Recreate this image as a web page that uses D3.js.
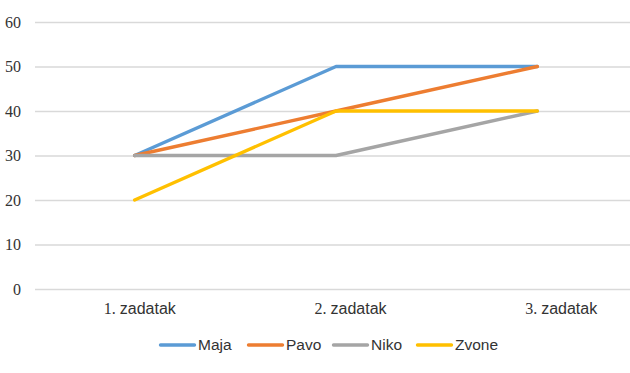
<!DOCTYPE html>
<html>
<head>
<meta charset="utf-8">
<script src="https://cdn.jsdelivr.net/npm/d3@7"></script>
<style>
  body { margin: 0; background: #fff; }
  svg { display: block; }
</style>
</head>
<body>
<div id="chart"></div>
<script>
(function() {
    'use strict';

    var categories = ["1. zadatak", "2. zadatak", "3. zadatak"];
    var seriesNames = ["Maja", "Pavo", "Niko", "Zvone"];
    var maja = [30, 50, 50];
    var pavo = [30, 40, 50];
    var niko = [30, 30, 40];
    var zvone = [20, 40, 40];
    var yTicks = [0, 10, 20, 30, 40, 50, 60];

    var seriesValues = [maja, pavo, niko, zvone];
    var colors = ["#5b9bd5", "#ed7d31", "#a5a5a5", "#ffc000"];

    var W = 630, H = 373;
    var plotLeft = 35, plotRight = 630, plotTop = 22, plotBottom = 289;
    var textColor = "#333";
    var serifStyle = "font-family:'Liberation Serif'";
    var sansStyle = "font-family:'Liberation Sans'";

    var svg = d3.select("#chart").append("svg")
        .attr("width", W)
        .attr("height", H);

    var x = d3.scalePoint()
        .domain(categories)
        .range([34, 638])
        .padding(0.5);

    // labels sit slightly right of the points in the reference
    var xLabel = d3.scalePoint()
        .domain(categories)
        .range([34, 666])
        .padding(0.5);

    var y = d3.scaleLinear()
        .domain([0, 60])
        .range([plotBottom, plotTop]);

    // grid
    svg.append("g")
        .attr("class", "grid")
        .attr("transform", "translate(" + plotLeft + ",0)")
        .call(d3.axisLeft(y).tickValues(yTicks).tickSize(-(plotRight - plotLeft)).tickFormat(""))
        .call(g => g.select(".domain").remove())
        .selectAll("line")
        .style("stroke", "#d9d9d9")
        .style("stroke-width", 1.3);

    // y labels
    svg.append("g")
        .attr("class", "y-axis")
        .attr("transform", "translate(21,0)")
        .call(d3.axisLeft(y).tickValues(yTicks).tickSize(0).tickPadding(0))
        .attr("font-family", null)
        .attr("font-size", null)
        .call(g => g.select(".domain").remove())
        .selectAll("text")
        .attr("style", serifStyle)
        .attr("font-size", 16)
        .attr("fill", textColor)
        .attr("dy", "0.33em");

    // x labels, "1." in serif and the word in sans like the reference
    var xAxis = svg.append("g")
        .attr("class", "x-axis")
        .attr("transform", "translate(0," + plotBottom + ")")
        .call(d3.axisBottom(xLabel).tickSize(0).tickPadding(0))
        .attr("font-family", null)
        .attr("font-size", null)
        .call(g => g.select(".domain").remove());

    xAxis.selectAll("text")
        .attr("y", 25)
        .attr("dy", 0)
        .attr("fill", textColor)
        .attr("font-size", 16)
        .text(null)
        .each(function(d) {
            var parts = d.split(" ");
            var t = d3.select(this);
            t.append("tspan").attr("style", serifStyle).text(parts[0] + " ");
            t.append("tspan").attr("style", sansStyle).text(parts[1]);
        });

    var line = d3.line()
        .x((d, i) => x(categories[i]))
        .y(d => y(d));

    svg.selectAll(".serie")
        .data(seriesValues)
        .enter().append("path")
        .attr("class", "serie")
        .attr("d", line)
        .attr("fill", "none")
        .attr("stroke", (d, i) => colors[i])
        .attr("stroke-width", 3.4)
        .attr("stroke-linecap", "round")
        .attr("stroke-linejoin", "round");

    // legend
    var legendX = [159, 247, 332, 416];
    var legendY = 345;
    var legend = svg.selectAll(".legend")
        .data(seriesNames)
        .enter().append("g")
        .attr("class", "legend")
        .attr("transform", (d, i) => "translate(" + legendX[i] + "," + legendY + ")");

    legend.append("line")
        .attr("x1", 1.5)
        .attr("x2", 35.5)
        .attr("stroke", (d, i) => colors[i])
        .attr("stroke-width", 3.4)
        .attr("stroke-linecap", "round");

    legend.append("text")
        .attr("style", sansStyle)
        .attr("x", 39)
        .attr("y", 5.3)
        .attr("font-size", 15.5)
        .attr("fill", textColor)
        .text(d => d);
})();
</script>
</body>
</html>
